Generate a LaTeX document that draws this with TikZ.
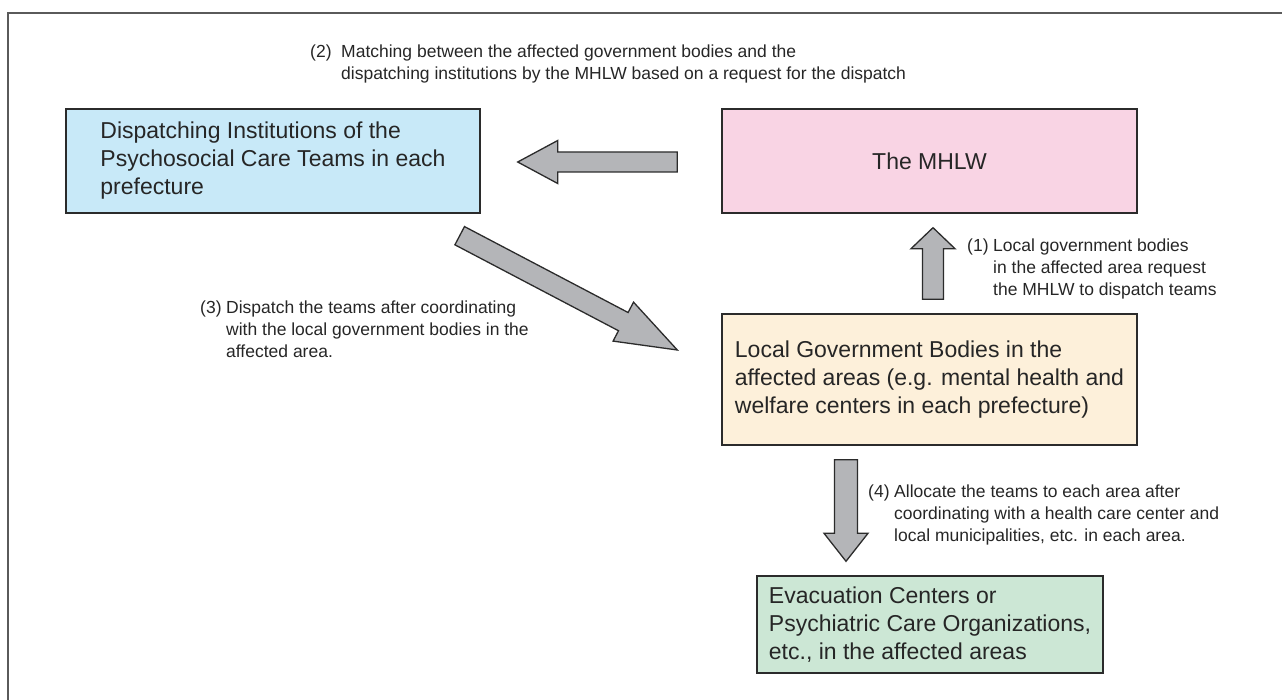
\documentclass[tikz,border=0pt]{standalone}
\usepackage{fontspec}
\setmainfont{Liberation Sans}
\usetikzlibrary{calc}
\definecolor{bluefill}{HTML}{C8E9F8}
\definecolor{pinkfill}{HTML}{F9D4E4}
\definecolor{orangefill}{HTML}{FDF0DA}
\definecolor{greenfill}{HTML}{CCE7D5}
\definecolor{arrowfill}{HTML}{B4B5B8}
\definecolor{edgec}{HTML}{2B2B2B}
\definecolor{framec}{HTML}{5A5A5A}
\renewcommand{\arraystretch}{1.1}
\newcommand{\blockarrow}[5]{%
  \coordinate (ba-h) at ($(#2)!#5!(#1)$);
  \draw[blockarr] ($(#1)!#3!90:(#2)$) -- ($(ba-h)!#3!90:(#2)$) -- ($(ba-h)!#4!90:(#2)$) -- (#2)
    -- ($(ba-h)!#4!-90:(#2)$) -- ($(ba-h)!#3!-90:(#2)$) -- ($(#1)!#3!-90:(#2)$) -- cycle;
}
\tikzset{
  box/.style={draw=edgec, line width=1.4pt, align=left, inner sep=0pt,
    font=\fontsize{23}{28}\selectfont, text=black!85},
  blockarr/.style={draw=edgec, fill=arrowfill, line width=1.3pt, line join=miter},
  lbl/.style={font=\fontsize{17.5}{20}\selectfont, text=black!85, inner sep=0pt, anchor=base west},
  framel/.style={draw=framec, line width=2pt}
}
\begin{document}
\begin{tikzpicture}[x=1pt,y=-1pt]
\useasboundingbox (0,0) rectangle (1282,700);
\draw[framel] (8,700) -- (8,13) -- (1282,13);

\node[box, fill=bluefill, minimum width=414pt, minimum height=104pt] (blue) at (273,161)
  {Dispatching Institutions of the\\Psychosocial Care Teams in each\\prefecture};
\node[box, fill=pinkfill, align=center, minimum width=415pt, minimum height=104pt] (pink) at (929.5,161)
  {The MHLW};
\node[box, fill=orangefill, minimum width=415pt, minimum height=131pt] (orange) at (929.5,379.5)
  {Local Government Bodies in the\\affected areas (e.g. mental health and\\welfare centers in each prefecture)};
\node[box, fill=greenfill, minimum width=346pt, minimum height=97pt] (green) at (930,624.5)
  {Evacuation Centers or\\Psychiatric Care Organizations,\\etc., in the affected areas};

% arrows
\coordinate (ltail) at ($(pink.west)+(-44,1)$);
\coordinate (ltip) at ($(blue.east)+(37,1)$);
\blockarrow{ltail}{ltip}{10pt}{21.5pt}{40pt}

\coordinate (utail) at ($(orange.north)+(3.5,-14)$);
\coordinate (utip) at ($(pink.south)+(3.5,14)$);
\blockarrow{utail}{utip}{10.5pt}{22pt}{21pt}

\coordinate (dtail) at ($(blue.south east)+(-21,22)$);
\coordinate (dtip) at ($(orange.west)+(-44,-29.5)$);
\blockarrow{dtail}{dtip}{10.3pt}{22pt}{61pt}

\coordinate (vtail) at ($(orange.south)+(-83.5,14)$);
\coordinate (vtip) at ($(green.north)+(-84,-14)$);
\blockarrow{vtail}{vtip}{11.5pt}{22pt}{28pt}

% labels
\node[lbl] (l2) at (310,58) {\begin{tabular}[t]{@{}p{31pt}@{}l@{}}(2)&Matching between the affected government bodies and the\\&dispatching institutions by the MHLW based on a request for the dispatch\end{tabular}};
\node[lbl] (l1) at (967,252) {\begin{tabular}[t]{@{}p{26pt}@{}l@{}}(1)&Local government bodies\\&in the affected area request\\&the MHLW to dispatch teams\end{tabular}};
\node[lbl] (l3) at (200,314) {\begin{tabular}[t]{@{}p{26pt}@{}l@{}}(3)&Dispatch the teams after coordinating\\&with the local government bodies in the\\&affected area.\end{tabular}};
\node[lbl] (l4) at (868,497) {\begin{tabular}[t]{@{}p{26pt}@{}l@{}}(4)&Allocate the teams to each area after\\&coordinating with a health care center and\\&local municipalities, etc. in each area.\end{tabular}};
\end{tikzpicture}
\end{document}
